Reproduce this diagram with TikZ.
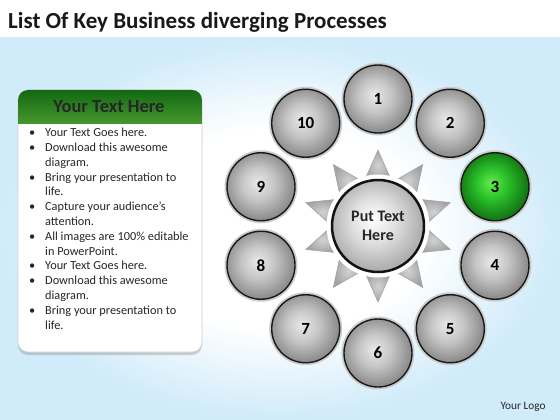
\documentclass[tikz,border=0pt]{standalone}
\usepackage{fontspec}
\setmainfont{Carlito}
\usetikzlibrary{calc,shadows}
\definecolor{bgblue}{RGB}{208,235,250}
\definecolor{hdrdark}{RGB}{18,105,18}
\definecolor{hdrlight}{RGB}{70,150,45}
\definecolor{greenin}{RGB}{100,235,80}
\definecolor{greenmid}{RGB}{40,190,40}
\definecolor{greenout}{RGB}{20,120,20}
\pgfdeclareradialshading{bgshade}{\pgfpoint{0bp}{0bp}}{color(0bp)=(white); color(13bp)=(white); color(25bp)=(bgblue); color(50bp)=(bgblue)}
\pgfdeclareradialshading{btngray}{\pgfpoint{-3bp}{3bp}}{color(0bp)=(gray!18); color(12bp)=(gray!45); color(25bp)=(gray!88); color(50bp)=(gray!88)}
\pgfdeclareradialshading{btngreen}{\pgfpoint{-3bp}{3bp}}{color(0bp)=(greenin); color(12bp)=(greenmid); color(25bp)=(greenout); color(50bp)=(greenout)}
\pgfdeclareradialshading{ctrshade}{\pgfpoint{-3bp}{4bp}}{color(0bp)=(white); color(12bp)=(gray!25); color(25bp)=(gray!62); color(50bp)=(gray!62)}
\pgfdeclareradialshading{trishade}{\pgfpoint{0bp}{0bp}}{color(0bp)=(gray!35); color(25bp)=(gray!72); color(50bp)=(gray!72)}
\tikzset{
  btn/.style={circle, minimum size=68pt, inner sep=0pt, shading=btngray,
    draw=gray!20!black, line width=1.4pt,
    preaction={draw=gray!40, line width=5pt},
    font=\fontsize{17}{17}\selectfont\bfseries, text=black},
  btngr/.style={btn, shading=btngreen},
  ctrbox/.style={circle, minimum size=92pt, inner sep=0pt, shading=ctrshade,
    draw=gray!15!black, line width=2.5pt,
    preaction={draw=white, line width=11pt},
    font=\fontsize{16}{19}\selectfont\bfseries, align=center, text=black!85},
  ray/.style={shading=trishade, draw=gray!75, line width=0.5pt},
  panelbox/.style={rounded corners=10pt, fill=white, draw=gray!35, line width=0.6pt,
    drop shadow={shadow xshift=0pt, shadow yshift=-3pt, opacity=0.35}},
}
\begin{document}
\begin{tikzpicture}[x=1pt,y=-1pt]
\useasboundingbox (0,0) rectangle (560,420);
% background
\fill[white] (0,0) rectangle (560,420);
\shade[shading=bgshade] (0,38) rectangle (560,420);
% title
\node[anchor=base west, inner sep=0pt, font=\fontsize{23}{23}\selectfont\bfseries, text=black!90] (title) at (8,29) {List Of Key Business diverging Processes};
% left panel
\path[panelbox] (18,90) rectangle (202,352);
\begin{scope}
  \clip[rounded corners=10pt] (18,90) rectangle (202,352);
  \shade[top color=hdrdark, bottom color=hdrlight] (18,90) rectangle (202,123);
\end{scope}
\node[font=\fontsize{18.5}{18.5}\selectfont\bfseries, text=black!85] (hdr) at (109,107) {Your Text Here};
\node[anchor=north west, inner sep=0pt, align=left, text=black!85,
  font=\fontsize{12.3}{14.8}\selectfont] (list) at (29,128) {%
\makebox[16pt][l]{\textbullet}Your Text Goes here.\\
\makebox[16pt][l]{\textbullet}Download this awesome\\
\hspace*{16pt}diagram.\\
\makebox[16pt][l]{\textbullet}Bring your presentation to\\
\hspace*{16pt}life.\\
\makebox[16pt][l]{\textbullet}Capture your audience’s\\
\hspace*{16pt}attention.\\
\makebox[16pt][l]{\textbullet}All images are 100\% editable\\
\hspace*{16pt}in PowerPoint.\\
\makebox[16pt][l]{\textbullet}Your Text Goes here.\\
\makebox[16pt][l]{\textbullet}Download this awesome\\
\hspace*{16pt}diagram.\\
\makebox[16pt][l]{\textbullet}Bring your presentation to\\
\hspace*{16pt}life.};
% star rays
\foreach \k in {0,...,9}{
  \pgfmathsetmacro{\a}{90-36*\k}
  \path[ray] ({378+76*cos(\a)},{226-76*sin(\a)})
    -- ({378+47*cos(\a+17)},{226-47*sin(\a+17)})
    -- ({378+47*cos(\a-17)},{226-47*sin(\a-17)}) -- cycle;
}
\node[ctrbox] (ctr) at (378,226) {Put Text\\Here};
% numbered circles
\foreach \k/\s in {1/btn,2/btn,3/btngr,4/btn,5/btn,6/btn,7/btn,8/btn,9/btn,10/btn}{
  \pgfmathsetmacro{\a}{90-36*(\k-1)}
  \node[\s] (c\k) at ({378+123*cos(\a)},{226-127*sin(\a)}) {\k};
}
\node[font=\fontsize{11.3}{11.3}\selectfont, text=black!85] (logo) at (523,407) {Your Logo};
\end{tikzpicture}
\end{document}
